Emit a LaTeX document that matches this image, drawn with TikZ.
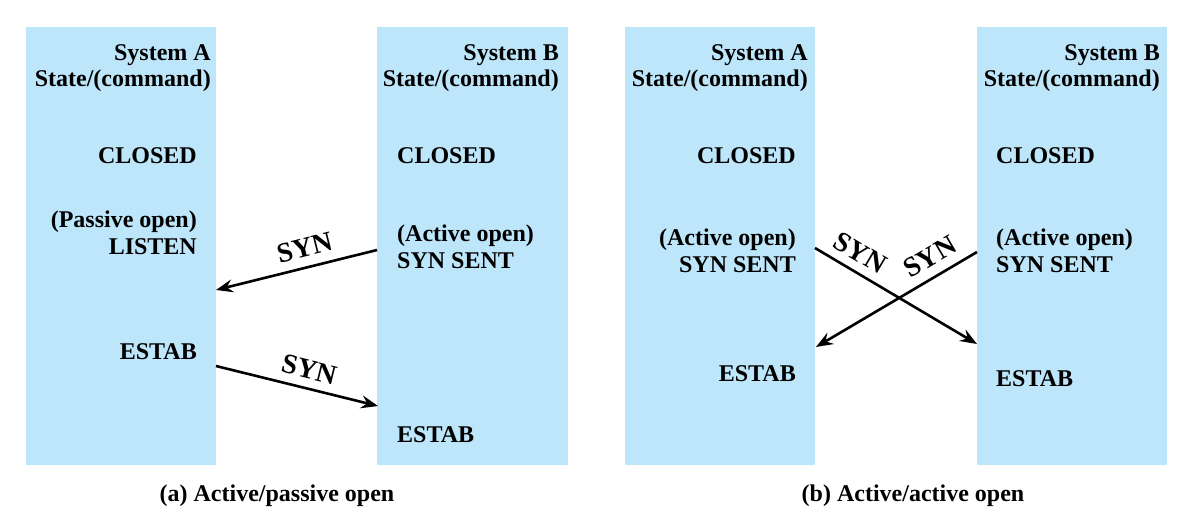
\documentclass[tikz,border=0pt]{standalone}
\usepackage{fontspec}
\setmainfont{Liberation Serif}
\usetikzlibrary{arrows.meta}

\definecolor{colblue}{RGB}{189,230,250}

\tikzset{
  col/.style={fill=colblue, draw=none},
  txt/.style={font=\fontsize{24}{27}\selectfont\bfseries, inner sep=0pt},
  msg/.style={line width=2.6pt, -{Stealth[length=17pt, width=13pt, inset=6pt]}},
  syn/.style={font=\fontsize{28}{30}\selectfont\bfseries, inner sep=0pt}
}

\begin{document}
\begin{tikzpicture}[x=1pt, y=-1pt]
  \useasboundingbox (0,0) rectangle (1194,511);

  % (a) active/passive
  \fill[col] (26,27) rectangle (216,465);
  \fill[col] (377,27) rectangle (568,465);
  \node[txt, anchor=base east, align=right] (aAhead) at (211,87) {System A\\State/(command)};
  \node[txt, anchor=base east, align=right] (aBhead) at (559,87) {System B\\State/(command)};
  \node[txt, anchor=base east] (aAclosed) at (197,163) {CLOSED};
  \node[txt, anchor=base east, align=right] (aAlisten) at (197,254) {(Passive open)\\LISTEN};
  \node[txt, anchor=base east] (aAestab) at (197,359) {ESTAB};
  \node[txt, anchor=base west] (aBclosed) at (397,163) {CLOSED};
  \node[txt, anchor=base west, align=left] (aBsent) at (397,268) {(Active open)\\SYN SENT};
  \node[txt, anchor=base west] (aBestab) at (397,442) {ESTAB};

  \coordinate (aBout) at (377,250);
  \coordinate (aAin) at (216,290);
  \coordinate (aAout) at (216,366);
  \coordinate (aBin) at (378,406);
  \draw[msg] (aBout) -- (aAin) node[syn, pos=0.42, above=9pt, sloped] (aSyn1) {SYN};
  \draw[msg] (aAout) -- (aBin) node[syn, pos=0.55, above=8pt, sloped] (aSyn2) {SYN};

  \node[txt, anchor=base] (aCap) at (277,501) {(a) Active/passive open};

  % (b) active/active
  \fill[col] (625,27) rectangle (815,465);
  \fill[col] (977,27) rectangle (1167,465);
  \node[txt, anchor=base east, align=right] (bAhead) at (808,87) {System A\\State/(command)};
  \node[txt, anchor=base east, align=right] (bBhead) at (1160,87) {System B\\State/(command)};
  \node[txt, anchor=base east] (bAclosed) at (796,163) {CLOSED};
  \node[txt, anchor=base east, align=right] (bAsent) at (796,272) {(Active open)\\SYN SENT};
  \node[txt, anchor=base east] (bAestab) at (796,381) {ESTAB};
  \node[txt, anchor=base west] (bBclosed) at (996,163) {CLOSED};
  \node[txt, anchor=base west, align=left] (bBsent) at (996,272) {(Active open)\\SYN SENT};
  \node[txt, anchor=base west] (bBestab) at (996,386) {ESTAB};

  \coordinate (bAout) at (815,248);
  \coordinate (bBin) at (977,344);
  \coordinate (bBout) at (977,252);
  \coordinate (bAin) at (816,347);
  \draw[msg] (bAout) -- (bBin) node[syn, pos=0.22, above=8pt, sloped] (bSyn1) {SYN};
  \draw[msg] (bBout) -- (bAin) node[syn, pos=0.23, above=9pt, sloped] (bSyn2) {SYN};

  \node[txt, anchor=base] (bCap) at (913,501) {(b) Active/active open};
\end{tikzpicture}
\end{document}
